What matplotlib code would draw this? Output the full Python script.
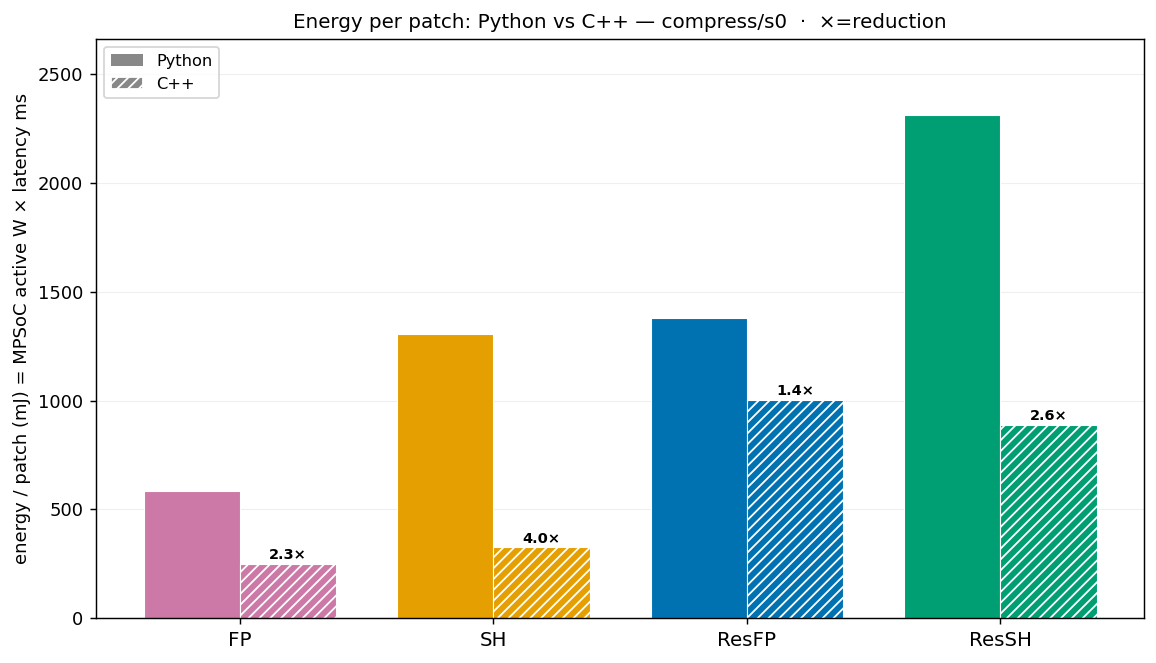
import numpy as np
import matplotlib.pyplot as plt
from matplotlib.patches import Patch

methods = ["FP", "SH", "ResFP", "ResSH"]
python_mj = [582, 1308, 1378, 2315]
cpp_mj = [250, 326, 1004, 889]
colors = ["#CC79A7", "#E69F00", "#0072B2", "#009E73"]

fig, ax = plt.subplots(figsize=(1156 / 130, 663 / 130), dpi=130)
x = np.arange(len(methods))
w = 0.38
ax.bar(x - w / 2, python_mj, w, color=colors, edgecolor="white", linewidth=0.6, zorder=2)
ax.bar(x + w / 2, cpp_mj, w, color=colors, edgecolor="white", hatch="////", linewidth=0.6, zorder=2)

for xi, p, c in zip(x, python_mj, cpp_mj):
    ax.text(xi + w / 2, c + 6, f"{p / c:.1f}×", ha="center", va="bottom",
            fontsize=8, fontweight="bold")

ax.set_xticks(x)
ax.set_xticklabels(methods, fontsize=11)
ax.set_ylim(0, max(python_mj) * 1.15)
ax.set_ylabel("energy / patch (mJ) = MPSoC active W × latency ms", fontsize=10)
ax.set_title("Energy per patch: Python vs C++ — compress/s0  ·  ×=reduction", fontsize=11)
ax.grid(axis="y", alpha=0.2, linewidth=0.6, zorder=0)
ax.set_axisbelow(True)

handles = [Patch(facecolor="#888888", label="Python"),
           Patch(facecolor="#888888", hatch="////", edgecolor="white", label="C++")]
ax.legend(handles=handles, loc="upper left", fontsize=9)

fig.subplots_adjust(left=0.083, right=0.99, top=0.941, bottom=0.068)
fig.savefig("out.png", dpi=130)
